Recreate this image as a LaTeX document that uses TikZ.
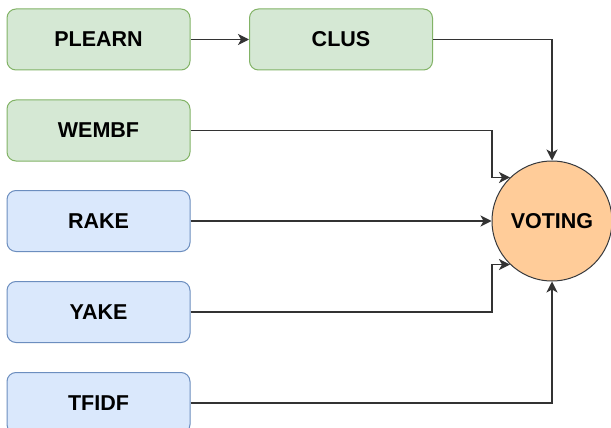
\documentclass[tikz,border=0pt]{standalone}
\usepackage{fontspec}
\setmainfont{Liberation Sans}
\usetikzlibrary{arrows.meta}
\definecolor{gfill}{HTML}{D5E8D4}
\definecolor{gline}{HTML}{82B366}
\definecolor{bfill}{HTML}{DAE8FC}
\definecolor{bline}{HTML}{6C8EBF}
\definecolor{ofill}{HTML}{FFCC99}
\definecolor{oline}{HTML}{36393D}
\definecolor{wire}{HTML}{333333}
\begin{document}
\begin{tikzpicture}[x=1pt,y=-1pt,
  box/.style={draw, rounded corners=9pt, line width=1pt, minimum width=183pt, minimum height=61pt, inner sep=0pt, font=\fontsize{21.5}{25}\selectfont\bfseries},
  gbox/.style={box, fill=gfill, draw=gline},
  bbox/.style={box, fill=bfill, draw=bline},
  vote/.style={circle, draw=oline, fill=ofill, line width=1pt, minimum size=120pt, inner sep=0pt, font=\fontsize{21.5}{25}\selectfont\bfseries},
  wirestyle/.style={draw=wire, line width=1.3pt, -{Stealth[length=11pt,width=11pt,inset=3pt]}}]
\useasboundingbox (0,0) rectangle (611,428);
\fill[white] (0,0) rectangle (611,428);
\node[gbox] (plearn) at (98.5,39.5) {PLEARN};
\node[gbox] (clus) at (341,39.5) {CLUS};
\node[gbox] (wembf) at (98.5,130.5) {WEMBF};
\node[bbox] (rake) at (98.5,221) {RAKE};
\node[bbox] (yake) at (98.5,312) {YAKE};
\node[bbox] (tfidf) at (98.5,403) {TFIDF};
\node[vote] (v) at (552,221) {VOTING};
\draw[wirestyle] (plearn.east) -- (clus.west);
\draw[wirestyle] (clus.east) -| (v.north);
\draw[wirestyle] (wembf.east) -| ([xshift=-18pt]v.134) -- (v.134);
\draw[wirestyle] (rake.east) -- (v.west);
\draw[wirestyle] (yake.east) -| ([xshift=-18pt]v.226) -- (v.226);
\draw[wirestyle] (tfidf.east) -| (v.south);
\end{tikzpicture}
\end{document}
